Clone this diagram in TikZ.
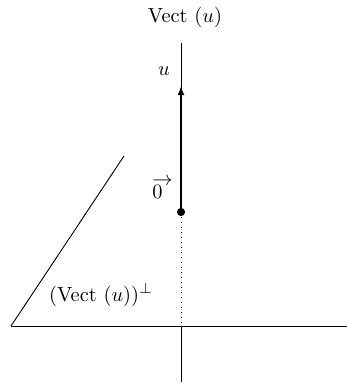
\documentclass[tikz,border=0pt]{standalone}
\usetikzlibrary{arrows.meta}
\newcommand{\zerovec}{\vbox{\baselineskip=6.6pt\lineskiplimit=-20pt\lineskip=0pt\hbox{$\rightarrow$}\hbox{$0$}}}
\begin{document}
\begin{tikzpicture}[x=0.49pt,y=-0.49pt,
  axis/.style={line width=0.45pt},
  vecline/.style={line width=0.8pt,-{Latex[length=4.5pt,width=3.5pt]}},
  lbl/.style={inner sep=0pt}]
\useasboundingbox (0,0) rectangle (347,383);
\coordinate (top) at (181,43);
\coordinate (O) at (181,212);
\coordinate (U) at (181,86);
\coordinate (C) at (181,326);
\coordinate (bot) at (181,382);
\coordinate (L) at (11,326);
\coordinate (R) at (347,326);
\coordinate (P) at (124,156);
\draw[axis] (top) -- (O);
\draw[vecline] (O) -- (U);
\draw[axis,dotted] (O) -- (C);
\draw[axis] (C) -- (bot);
\draw[axis] (L) -- (R);
\draw[axis] (L) -- (P);
\fill (O) circle (2pt);
\node[lbl] (vect) at (185,17) {Vect~$(u)$};
\node[lbl] (ulbl) at (164,71) {$u$};
\node[lbl,anchor=west] (zero) at (152,188) {\zerovec};
\node[lbl] (perp) at (101,295) {$(\mathrm{Vect}~(u))^{\perp}$};
\end{tikzpicture}
\end{document}
